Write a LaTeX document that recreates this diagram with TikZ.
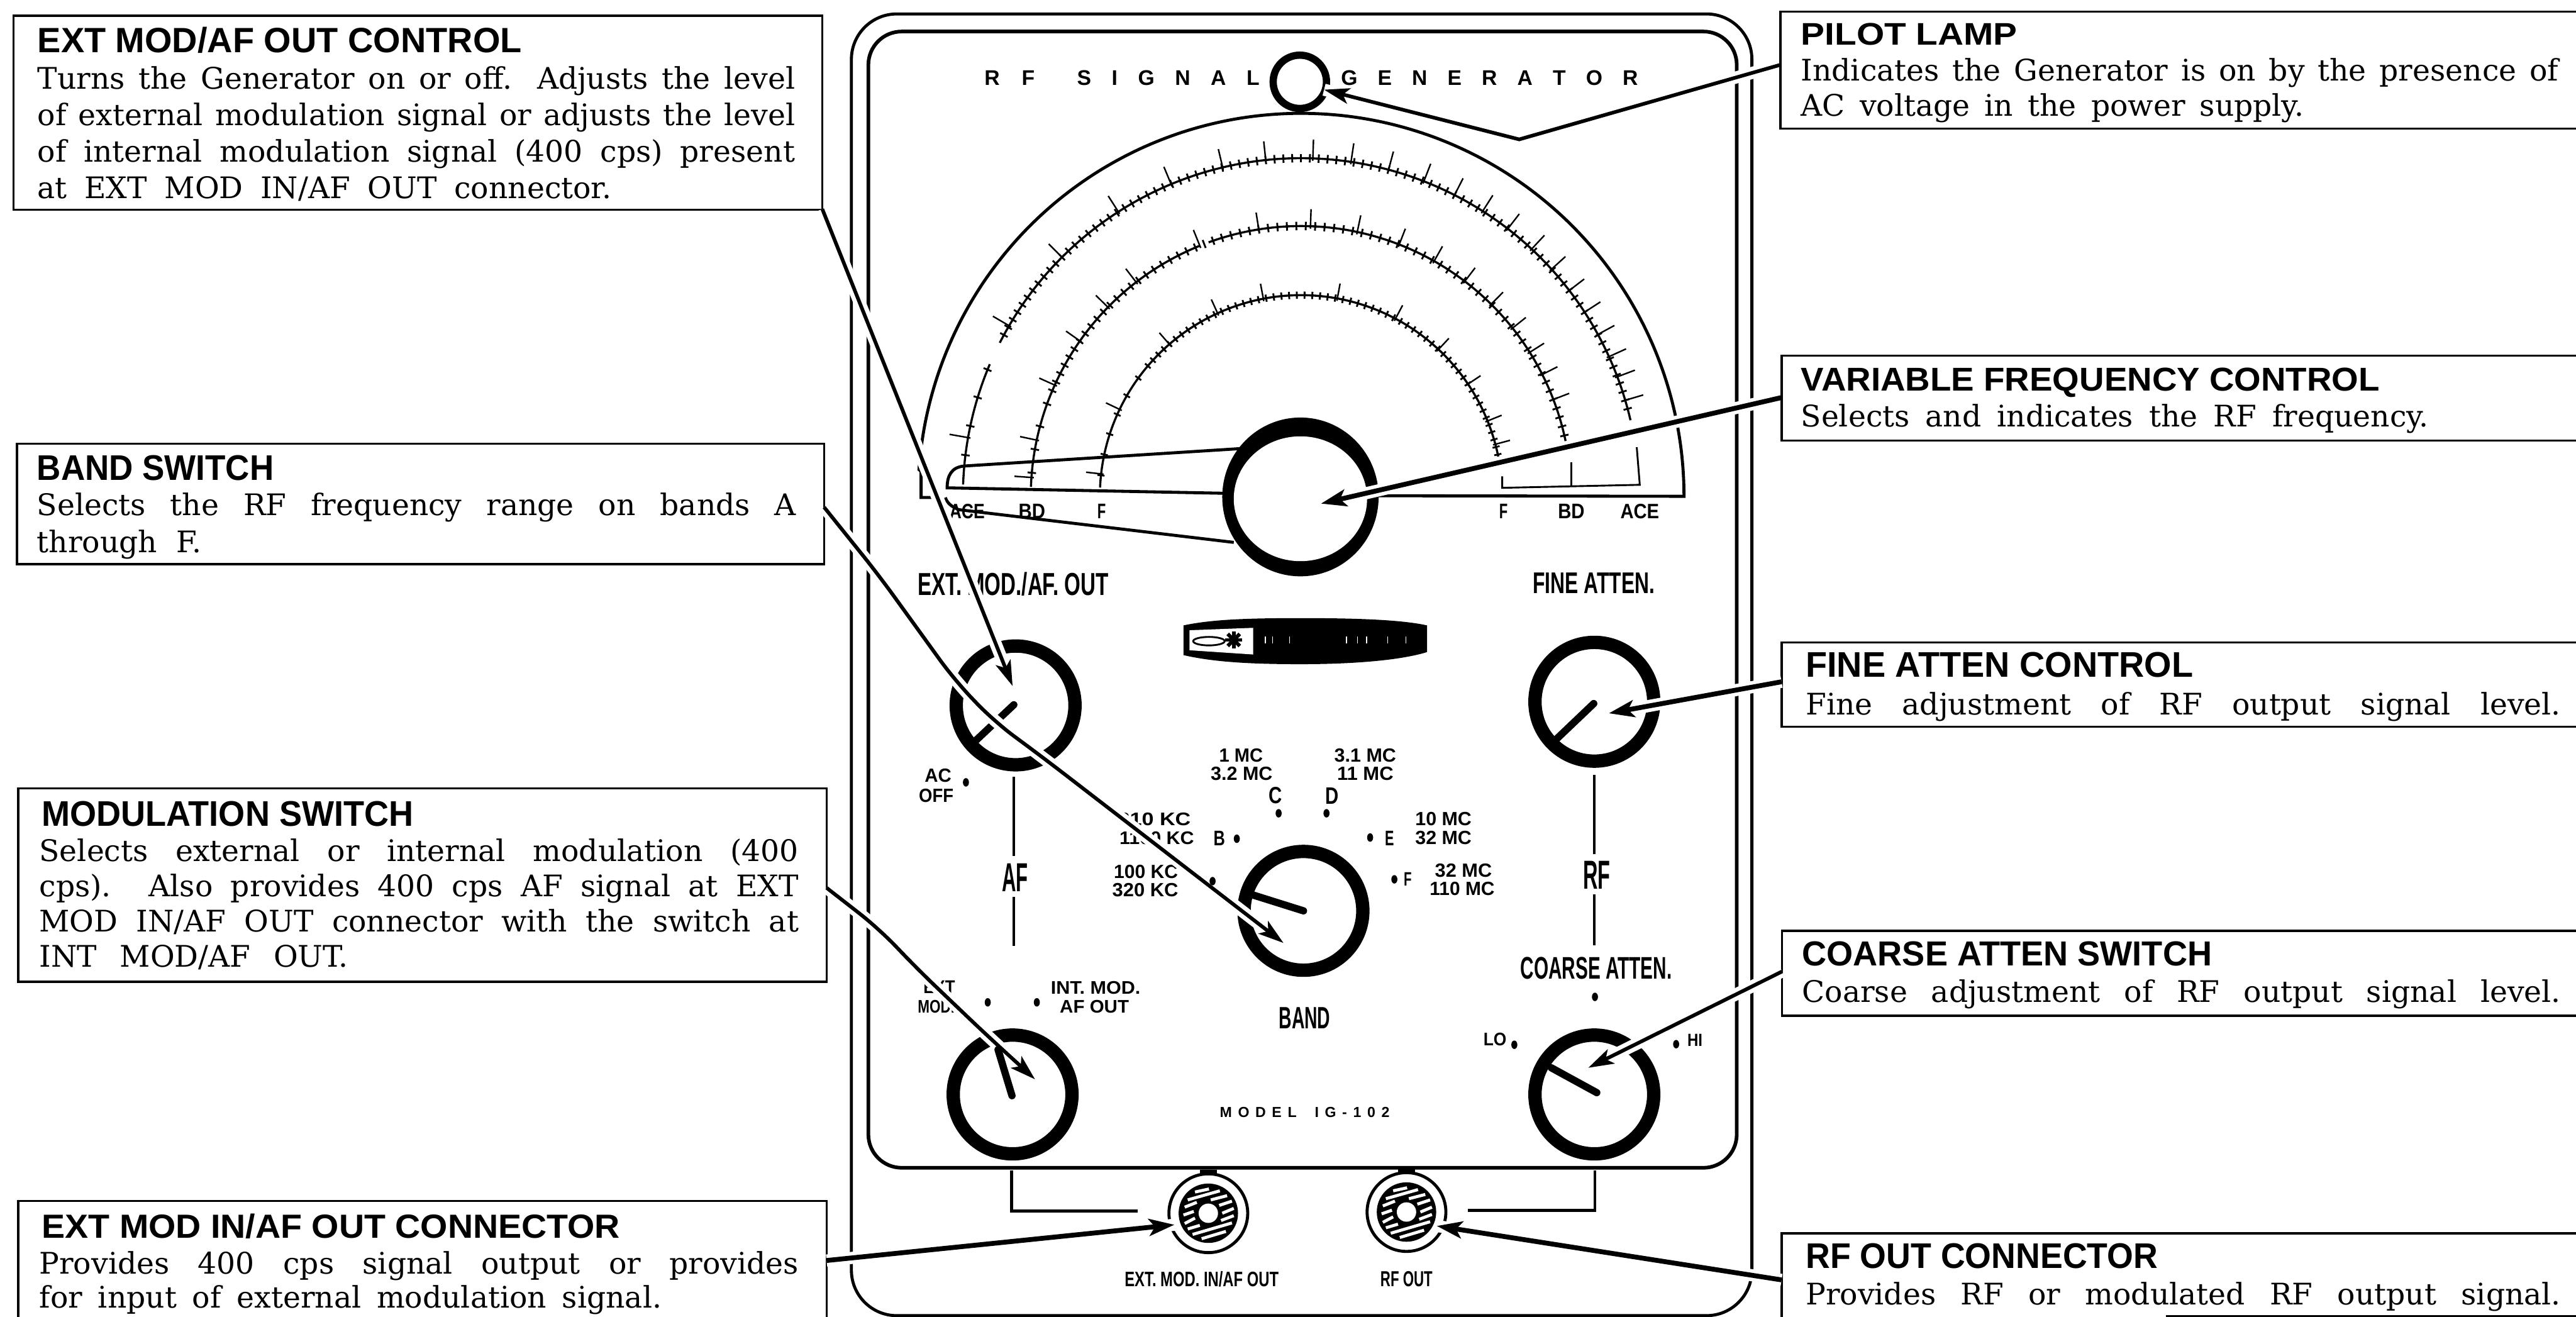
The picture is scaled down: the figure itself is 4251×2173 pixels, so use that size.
\documentclass[tikz,border=0pt]{standalone}
\usepackage{fontspec}
\usepackage{graphicx}
\setmainfont{Liberation Sans}
\newfontfamily\bodyfam{DejaVu Serif}
\usetikzlibrary{arrows.meta}
\newcommand{\bodyf}[1]{\bodyfam\fontsize{49}{#1}\selectfont}
\newcommand{\jf}[2][\hsize]{\rule{0pt}{40pt}\makebox[#1][s]{\spaceskip=0pt \xspaceskip=0pt #2}}
\newcommand{\jl}[2][\hsize]{\makebox[#1][s]{\spaceskip=0pt \xspaceskip=0pt #2}}
\newcommand{\plab}[6]{\node[plabel] (#1) at (#2,#3) {\resizebox{#4pt}{#5pt}{\bfseries #6}};}
\newcommand{\headt}[6]{\node[headlabel] (#1) at (#2,#3) {\resizebox{#4pt}{#5pt}{\bfseries #6}};}
\newcommand{\dtick}[4]{\draw ({2147+(#1-#3)*cos(#2)},{819-(#1-#3)*sin(#2)}) -- ({2147+(#1+#4)*cos(#2)},{819-(#1+#4)*sin(#2)});}
\newcommand{\dialarc}[3]{\draw[scalearc] plot[domain=#2:#3,samples=120] ({2147+#1*cos(\x)},{819-#1*sin(\x)});}
\newcommand{\knobring}[2]{\draw[ring] (#1,#2) circle[radius=98];}
\newcommand{\jack}[2]{\begin{scope}[shift={(#1,#2)}]
  \fill (-14,-72) rectangle (14,-63);
  \draw[line width=5pt] (0,0) circle[radius=65];
  \fill (0,0) circle[radius=49];
  \foreach \xa/\ya/\xb/\yb in {-22/-35/1/-40,-34/-22/19/-37,4/-22/31/-29,18/-13/39/-20,-39/-10/-19/-18,23/0/42/-8,-41/3/-24/-3,21/12/42/4,-39/17/-22/8,-34/26/-14/20,-26/35/39/16,-11/42/29/30}
    \draw[white,line width=5pt] (\xa,\ya) -- (\xb,\yb);
  \fill[white] (0,0) circle[radius=16];
\end{scope}}
\tikzset{
  x=1pt,y=-1pt,
  plabel/.style={inner sep=0pt,outer sep=0pt,anchor=center},
  headlabel/.style={inner sep=0pt,outer sep=0pt,anchor=north west},
  bodytext/.style={inner sep=0pt,outer sep=0pt,anchor=north west,align=left},
  callout/.style={draw,line width=3.5pt,inner sep=0pt,outer sep=0pt,anchor=north west},
  ring/.style={line width=22pt},
  scalearc/.style={line width=3.5pt},
  pointer/.style={line width=12pt,line cap=round},
  halo/.style={draw=white,line width=20pt},
  leader/.style={line width=6pt,-{Stealth[length=42pt,width=26pt,inset=10pt]}},
  heavyleader/.style={line width=8pt,-{Stealth[length=42pt,width=28pt,inset=10pt]}},
}
\begin{document}
\begin{tikzpicture}
\useasboundingbox (0,0) rectangle (4251,2173);
\fill[white] (0,0) rectangle (4251,2173);
% case and panel
\draw[line width=5pt,rounded corners=75pt] (1405,23) rectangle (2891,2171);
\draw[line width=6pt,rounded corners=55pt] (1433,52) rectangle (2866,1927);
% title
\node[plabel] (tRF) at (1666,129) {\fontsize{35}{35}\selectfont\bfseries\makebox[83pt][s]{R\hfil F}};
\node[plabel] (tSIG) at (1928,129) {\fontsize{35}{35}\selectfont\bfseries\makebox[301pt][s]{S\hfil I\hfil G\hfil N\hfil A\hfil L}};
\node[plabel] (tGEN) at (2458,129) {\fontsize{35}{35}\selectfont\bfseries\makebox[490pt][s]{G\hfil E\hfil N\hfil E\hfil R\hfil A\hfil T\hfil O\hfil R}};
% pilot lamp
\draw[line width=12pt] (2145,135) circle[radius=44];
% dial
\draw[line width=5pt] (1539,821) -- (1520,821) -- (1520,778)
  -- plot[domain=176:0,samples=200] ({2147+632*cos(\x)},{819-632*sin(\x)}) -- (2261,818);
\dialarc{558}{13}{153}
\dialarc{558}{157}{178}
\dialarc{446}{11}{110}
\dialarc{446}{112}{178}
\dialarc{332}{10.5}{177.5}
\begin{scope}[line width=2.5pt]
 \foreach \a in {88,96,103.4,112.6,122.7,135,149.7,170,81.5,75,68.7,63,57.5,52.3,47,42.2,37.5,33,28.6,24.4,20.7,16.5} {\dtick{558}{\a}{4}{31}}
 \foreach \a in {88,99,112,127.6,135.6,144.9,155.7,168,176,78,68.7,60.5,52.7,45.3,38.5,32.2,26.8,21} {\dtick{446}{\a}{4}{28}}
 \foreach \a in {100.8,79.6,114.5,130.9,154.4,173.6,62,46.9,33.9,22,15} {\dtick{332}{\a}{4}{25}}
\end{scope}
\begin{scope}[line width=3pt]
 \foreach \a in {15,16.5,...,152} {\dtick{558}{\a}{7}{7}}
 \foreach \a in {158,163,...,176} {\dtick{558}{\a}{7}{7}}
 \foreach \a in {13,15,...,157} {\dtick{446}{\a}{7}{7}}
 \foreach \a in {160,165,...,176} {\dtick{446}{\a}{7}{7}}
 \foreach \a in {12,14.2,...,140} {\dtick{332}{\a}{6}{6}}
 \foreach \a in {144,150,...,176} {\dtick{332}{\a}{6}{6}}
\end{scope}
% dial end brackets
\draw[line width=3pt] (2479,786) -- (2479,805) -- (2706,800) -- (2701,738);
\draw[line width=3pt] (2593,763) -- (2593,802);
% dial knob wedge
\draw[line width=5pt] (2051,740) -- (1591,769) .. controls (1570,771) and (1563,785) .. (1563,805) -- (2022,814);
\draw[line width=5pt] (1560,821) .. controls (1563,830) and (1570,836) .. (1582,841) -- (2036,895);
\plab{lACEl}{1596}{844}{58}{24}{ACE}
\plab{lBDl}{1703}{844}{44}{24}{BD}
\plab{lFl}{1818}{844}{14}{24}{F}
\plab{lFr}{2481}{844}{14}{24}{F}
\plab{lBDr}{2593}{844}{44}{24}{BD}
\plab{lACEr}{2706}{844}{64}{24}{ACE}
\fill (2146,820) ellipse[x radius=129,y radius=131];
\fill[white] (2146,823) ellipse[x radius=110,y radius=103];
% section labels
\plab{lExtMod}{1672}{964}{315}{38}{EXT. MOD./AF. OUT}
\plab{lFine}{2630}{962}{201}{34}{FINE ATTEN.}
% tuning indicator
\fill (1953,1032) .. controls (2000,1022) and (2060,1020) .. (2146,1020) .. controls (2230,1020) and (2310,1022) .. (2355,1032) -- (2355,1076) .. controls (2310,1090) and (2230,1096) .. (2146,1096) .. controls (2060,1096) and (2000,1092) .. (1953,1081) -- cycle;
\fill[white] (1963,1040) -- (2068,1036) -- (2068,1080) -- (1963,1073) -- cycle;
\draw[line width=3pt] (1995,1058) ellipse[x radius=26,y radius=7];
\foreach \r in {0,45,90,135} {\draw[line width=6pt] (2036,1056) ++(\r:14) -- ++(\r:-28);}
\foreach \xp in {2088,2100,2128,2222,2240,2255,2290,2320} {\draw[white,line width=1.5pt] (\xp,1050) -- (\xp,1062);}
% band labels
\plab{lAC}{1548}{1280}{44}{22}{AC}
\plab{lOFF}{1545}{1313}{57}{22}{OFF}
\plab{l1MC}{2048}{1246}{72}{22}{1 MC}
\plab{l32MC}{2049}{1277}{102}{22}{3.2 MC}
\plab{l31MC}{2253}{1246}{102}{22}{3.1 MC}
\plab{l11MC}{2253}{1277}{93}{22}{11 MC}
\plab{lC}{2105}{1313}{22}{27}{C}
\plab{lD}{2198}{1313}{22}{27}{D}
\plab{l310}{1905}{1352}{120}{21}{310 KC}
\plab{l1100}{1909}{1383}{123}{21}{1100 KC}
\plab{lB}{2012}{1383}{19}{24}{B}
\plab{lE}{2293}{1383}{15}{24}{E}
\plab{l10MC}{2382}{1351}{93}{22}{10 MC}
\plab{l32a}{2382}{1382}{93}{22}{32 MC}
\plab{l100}{1891}{1438}{106}{22}{100 KC}
\plab{l320}{1890}{1469}{109}{22}{320 KC}
\plab{lF2}{2323}{1451}{13}{22}{F}
\plab{l32b}{2415}{1436}{94}{22}{32 MC}
\plab{l110}{2413}{1467}{107}{22}{110 MC}
\plab{lAF}{1675}{1448}{43}{46}{AF}
\plab{lRF}{2635}{1444}{45}{46}{RF}
\plab{lCoarse}{2634}{1598}{250}{36}{COARSE ATTEN.}
\plab{lBand}{2153}{1680}{85}{35}{BAND}
\plab{lLO}{2467}{1715}{38}{21}{LO}
\plab{lHI}{2797}{1716}{25}{20}{HI}
\plab{lEXT}{1550}{1629}{52}{21}{EXT}
\plab{lMOD}{1545}{1661}{61}{21}{MOD.}
\plab{lINT}{1808}{1630}{148}{21}{INT. MOD.}
\plab{lAFO}{1806}{1661}{114}{21}{AF OUT}
\node[plabel] (lModel) at (2153,1835) {\fontsize{24}{24}\selectfont\bfseries\makebox[280pt][s]{M\hfil O\hfil D\hfil E\hfil L\hfil\hfil\hfil I\hfil G\hfil -\hfil 1\hfil 0\hfil 2}};
\plab{lJack1}{1983}{2111}{254}{25}{EXT. MOD. IN/AF OUT}
\plab{lJack2}{2321}{2111}{86}{25}{RF OUT}
% AF and RF lines
\draw[line width=3.5pt] (1673,1282) -- (1673,1413) (1673,1480) -- (1673,1561);
\draw[line width=3.5pt] (2631,1279) -- (2631,1409) (2631,1476) -- (2631,1560);
% brackets to connectors
\draw[line width=5pt] (1669,1931) -- (1669,1998) -- (1877,1998);
\draw[line width=5pt] (2632,1931) -- (2632,1997) -- (2422,1997);
% connectors
\jack{1994}{2002}
\jack{2321}{2000}
% knobs
\knobring{1676}{1164}
\knobring{2631}{1158}
\knobring{2151}{1503}
\knobring{1671}{1806}
\knobring{2631}{1806}
\draw[pointer] (1673,1163) -- (1606,1226);
% callout frames
\node[callout,minimum width=1335pt,minimum height=320pt] (boxExt) at (22,26) {};
\node[callout,minimum width=1332pt,minimum height=199pt] (boxBand) at (28,732) {};
\node[callout,minimum width=1334pt,minimum height=319pt] (boxMod) at (30,1301) {};
\node[callout,minimum width=1334pt,minimum height=210pt] (boxJack) at (30,1982) {};
\node[callout,minimum width=1340pt,minimum height=193pt] (boxPilot) at (2938,19) {};
\node[callout,minimum width=1340pt,minimum height=140pt] (boxVar) at (2940,587) {};
\node[callout,minimum width=1340pt,minimum height=139pt] (boxFine) at (2940,1060) {};
\node[callout,minimum width=1340pt,minimum height=140pt] (boxCoarse) at (2941,1536) {};
\node[callout,minimum width=1340pt,minimum height=160pt] (boxRF) at (2940,2035) {};
\draw[line width=3.5pt] (3574,2171.5) -- (4251,2171.5);
% leader end points
\coordinate (tipPilot) at (2185,148);
\coordinate (tipVar) at (2180,831);
\coordinate (tipExt) at (1671,1132);
\coordinate (tipBand) at (2118,1556);
\coordinate (tipMod) at (1708,1781);
\coordinate (tipJack) at (1938,2021);
\coordinate (tipRFO) at (2371,2023);
\coordinate (tipCoarse) at (2621,1762);
\coordinate (tipFine) at (2655,1177);
\coordinate (sPilot) at (boxPilot.west |- 0,107);
\coordinate (sVar) at (boxVar.west |- 0,656);
\coordinate (sExt) at (boxExt.east |- 0,345);
\coordinate (sBand) at (boxBand.east |- 0,837);
\coordinate (sMod) at (boxMod.east |- 0,1465);
\coordinate (sJack) at (boxJack.east |- 0,2080);
\coordinate (sRFO) at (boxRF.west |- 0,2112);
\coordinate (sCoarse) at (boxCoarse.west |- 0,1603);
\coordinate (sFine) at (boxFine.west |- 0,1125);
% white halos where the leaders cross the drawing
\draw[halo] (sPilot) -- (2507,230) -- (tipPilot);
\draw[halo] (sVar) -- (tipVar);
\draw[halo] (sExt) -- (tipExt);
\draw[halo,rounded corners=40pt] (sBand) -- (1450,949) -- (1575,1122) -- (1640,1190) -- (1725,1253) -- (tipBand);
\draw[halo,rounded corners=40pt] (sMod) -- (1450,1532) -- (1515,1600) -- (1626,1706) -- (tipMod);
\draw[halo] (sJack) -- (tipJack);
\draw[halo] (sRFO) -- (tipRFO);
\draw[halo] (sCoarse) -- (tipCoarse);
\draw[halo] (sFine) -- (tipFine);
% dots
\foreach \xp/\yp in {1594/1291,2110/1342,2189/1342,2041/1384,2261/1382,2001/1454,2301/1451,2632/1645,2499/1724,2766/1723,1630/1654,1711/1654}
  {\fill (\xp,\yp) ellipse[x radius=5,y radius=7];}
% pointers in front of the halos
\draw[pointer] (2630,1161) -- (2567,1221);
\draw[pointer] (2151,1503) -- (2065,1476);
\draw[pointer] (1670,1808) -- (1647,1732);
\draw[pointer] (2635,1803) -- (2560,1762);
% frames redrawn over halo start
\draw[line width=3.5pt] (boxPilot.north west) -- (boxPilot.south west);
\draw[line width=3.5pt] (boxVar.north west) -- (boxVar.south west);
% leaders
\draw[leader] (sPilot) -- (2507,230) -- (tipPilot);
\draw[heavyleader] (sVar) -- (tipVar);
\draw[leader] (sExt) -- (tipExt);
\draw[leader,rounded corners=40pt] (sBand) -- (1450,949) -- (1575,1122) -- (1640,1190) -- (1725,1253) -- (tipBand);
\draw[leader,rounded corners=40pt] (sMod) -- (1450,1532) -- (1515,1600) -- (1626,1706) -- (tipMod);
\draw[heavyleader] (sJack) -- (tipJack);
\draw[heavyleader] (sRFO) -- (tipRFO);
\draw[leader] (sCoarse) -- (tipCoarse);
\draw[heavyleader] (sFine) -- (tipFine);
% callout texts
\headt{hExt}{62}{45}{799}{42}{EXT MOD/AF OUT CONTROL}
\node[bodytext,text width=1250pt,font=\bodyf{60}] (bExt) at (62,107) {\jf{Turns the Generator on or off. Adjusts the level}\\ \jl{of external modulation signal or adjusts the level}\\ \jl{of internal modulation signal (400 cps) present}\\ \jl[947pt]{at EXT MOD IN/AF OUT connector.}};
\headt{hBand}{61}{751}{391}{41}{BAND SWITCH}
\node[bodytext,text width=1253pt,font=\bodyf{61}] (bBand) at (61,811) {\jf{Selects the RF frequency range on bands A}\\ \jl[272pt]{through F.}};
\headt{hMod}{69}{1322}{613}{41}{MODULATION SWITCH}
\node[bodytext,text width=1253pt,font=\bodyf{58.3}] (bMod) at (65,1381) {\jf{Selects external or internal modulation (400}\\ \jl{cps). Also provides 400 cps AF signal at EXT}\\ \jl{MOD IN/AF OUT connector with the switch at}\\ \jl[509pt]{INT MOD/AF OUT.}};
\headt{hJack}{69}{2003}{954}{40}{EXT MOD IN/AF OUT CONNECTOR}
\node[bodytext,text width=1253pt,font=\bodyf{56}] (bJack) at (65,2062) {\jf{Provides 400 cps signal output or provides}\\ \jl[1027pt]{for input of external modulation signal.}};
\headt{hPilot}{2972}{38}{357}{36}{PILOT LAMP}
\node[bodytext,text width=1250pt,font=\bodyf{58}] (bPilot) at (2972,93) {\jf{Indicates the Generator is on by the presence of}\\ \jl[830pt]{AC voltage in the power supply.}};
\headt{hVar}{2972}{607}{955}{38}{VARIABLE FREQUENCY CONTROL}
\node[bodytext,text width=1250pt,font=\bodyf{58}] (bVar) at (2972,664) {\jf[1036pt]{Selects and indicates the RF frequency.}};
\headt{hFine}{2980}{1076}{639}{41}{FINE ATTEN CONTROL}
\node[bodytext,text width=1246pt,font=\bodyf{58}] (bFine) at (2980,1139) {\jf{Fine adjustment of RF output signal level.}};
\headt{hCoarse}{2974}{1554}{676}{40}{COARSE ATTEN SWITCH}
\node[bodytext,text width=1252pt,font=\bodyf{58}] (bCoarse) at (2974,1614) {\jf{Coarse adjustment of RF output signal level.}};
\headt{hRFO}{2980}{2052}{581}{41}{RF OUT CONNECTOR}
\node[bodytext,text width=1246pt,font=\bodyf{58}] (bRFO) at (2980,2113) {\jf{Provides RF or modulated RF output signal.}};
\end{tikzpicture}
\end{document}
